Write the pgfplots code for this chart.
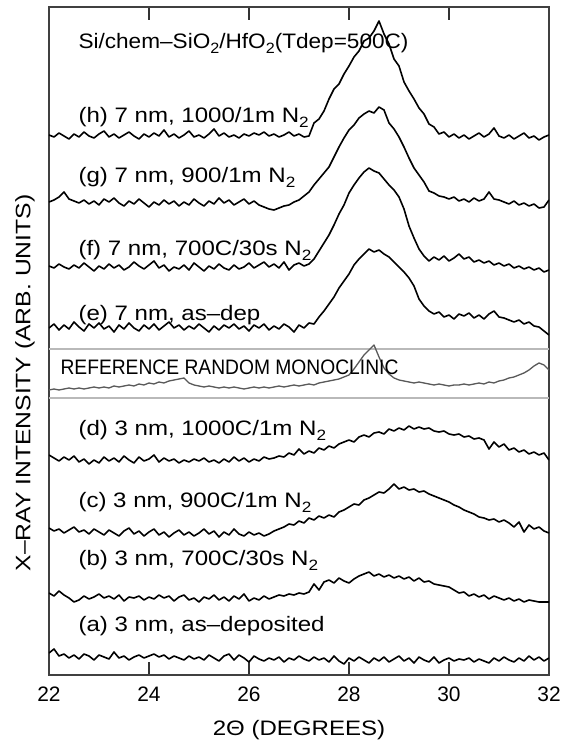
\documentclass[border=0pt]{standalone}
\usepackage{pgfplots}
\pgfplotsset{compat=1.18}
\usepackage{pgfplotstable}
\usepackage{fontspec}
\usepackage{graphicx}
\setmainfont{Liberation Sans}

% stacked XRD scans, y in screen units (each trace already offset)
\pgfplotstableread{
x a b c d r e f g h
22.0 22 82 147 220 285 347 409 473 540
22.1 26 79 144 217 286 351 407 475 538
22.2 19 84 146 214 285 345 411 478 542
22.3 21 80 142 218 286 350 408 483 539
22.4 17 77 145 215 287 346 406 476 536
22.5 20 73 148 219 286 353 410 474 541
22.6 16 75 143 213 287 348 407 472 538
22.7 21 79 145 216 286 344 412 475 543
22.8 19 76 141 211 287 351 408 471 539
22.9 15 78 146 215 288 347 404 474 537
23.0 20 81 143 212 287 352 409 470 541
23.1 18 77 140 218 288 346 406 476 544
23.2 16 79 145 214 287 349 411 473 538
23.3 23 76 142 217 289 343 407 477 541
23.4 17 80 139 213 288 350 410 472 537
23.5 19 74 144 219 289 346 405 469 540
23.6 15 78 147 215 290 352 408 474 543
23.7 18 77 141 212 289 347 413 471 539
23.8 20 79 144 218 291 344 409 476 536
23.9 17 75 139 214 290 350 406 472 541
24.0 19 78 143 216 292 346 410 468 538
24.1 21 76 146 220 291 351 414 473 542
24.2 18 80 140 213 293 345 407 470 539
24.3 20 77 143 217 292 349 410 475 545
24.4 16 79 138 214 294 353 404 471 538
24.5 19 74 142 216 295 347 408 474 541
24.6 17 78 145 212 296 350 406 469 537
24.7 15 80 140 215 297 345 410 473 540
24.8 19 75 143 213 292 349 405 470 544
24.9 16 77 139 216 290 346 412 476 538
25.0 18 73 142 214 289 351 408 472 540
25.1 15 78 146 217 288 347 404 469 537
25.2 20 76 141 213 289 343 409 474 541
25.3 17 80 144 215 288 349 406 471 546
25.4 14 75 138 212 287 345 411 477 539
25.5 19 78 143 216 288 350 407 472 542
25.6 21 74 140 213 287 347 405 475 538
25.7 15 79 146 218 288 351 410 470 540
25.8 20 76 141 214 287 346 406 473 537
25.9 17 81 139 217 286 349 408 476 541
26.0 13 74 143 213 287 344 412 471 539
26.1 19 77 140 216 288 350 407 474 542
26.2 16 75 142 214 287 347 410 470 540
26.3 14 79 139 218 288 351 413 468 543
26.4 17 76 141 216 287 345 408 466 539
26.5 15 78 144 217 288 349 411 465 541
26.6 18 80 146 219 289 346 407 467 538
26.7 13 79 148 218 288 351 413 469 540
26.8 17 81 151 222 289 348 405 470 543
26.9 15 80 150 220 290 343 410 473 539
27.0 19 82 154 226 289 350 412 475 541
27.1 16 81 152 221 290 347 409 479 538
27.2 14 83 157 224 291 352 411 483 539
27.3 18 91 155 222 290 351 416 490 552
27.4 15 85 159 227 292 358 424 496 556
27.5 17 93 157 225 293 364 432 502 564
27.6 13 95 160 229 294 371 440 508 576
27.7 19 92 158 227 295 378 450 518 586
27.8 14 97 163 231 296 387 461 528 591
27.9 11 94 165 233 298 394 470 537 601
28.0 17 92 168 235 300 401 482 545 609
28.1 14 96 171 233 306 410 490 550 618
28.2 18 99 170 238 313 416 497 557 624
28.3 15 101 175 240 320 421 503 561 634
28.4 12 103 177 238 325 426 507 564 637
28.5 17 99 180 242 330 423 504 562 644
28.6 14 101 183 243 318 425 502 568 654
28.7 18 98 182 241 307 421 496 565 641
28.8 13 100 186 246 301 418 490 552 631
28.9 16 97 191 244 297 413 485 546 616
29.0 19 99 186 247 295 408 478 538 609
29.1 14 96 188 245 294 403 466 528 593
29.2 17 98 185 249 293 397 449 517 584
29.3 12 94 186 246 292 389 437 507 576
29.4 18 97 183 248 293 376 426 500 567
29.5 15 93 184 246 292 369 419 493 561
29.6 13 94 181 247 291 364 414 484 551
29.7 18 91 179 244 290 361 418 482 548
29.8 12 90 177 243 291 363 415 479 541
29.9 15 89 175 244 290 358 419 478 543
30.0 17 88 173 241 289 360 414 476 538
30.1 14 85 170 240 290 356 417 478 541
30.2 16 82 168 241 290 361 421 474 537
30.3 15 83 165 238 291 359 416 476 540
30.4 17 79 163 239 290 362 418 473 536
30.5 13 81 161 236 291 357 413 477 539
30.6 16 78 158 237 292 360 415 474 542
30.7 14 80 157 235 291 356 412 476 538
30.8 12 76 155 226 293 361 414 483 541
30.9 17 79 156 233 292 364 410 476 547
31.0 14 77 153 228 294 358 412 475 539
31.1 18 75 155 231 295 357 409 473 537
31.2 15 77 152 225 297 355 411 471 540
31.3 13 74 148 227 298 353 407 474 536
31.4 17 76 153 223 300 355 409 470 539
31.5 14 73 143 225 302 351 406 472 542
31.6 19 75 150 221 305 353 408 469 537
31.7 15 74 146 223 309 349 405 471 539
31.8 18 73 148 220 312 348 407 467 535
31.9 14 73 144 222 310 344 403 468 538
32.0 17 73 142 215 305 340 405 475 540
}\xrd

\newcommand{\sub}[1]{\raisebox{-0.45ex}{\fontsize{15}{15}\selectfont #1}}
\newcommand{\lbl}[1]{\scalebox{1.15}[1]{#1}}

\begin{document}
\begin{tikzpicture}
\useasboundingbox (-49bp,-65bp) rectangle (526bp,675bp);
\begin{axis}[
    at={(0,0)}, anchor=south west,
    width=500bp, height=668bp, scale only axis,
    xmin=22, xmax=32, ymin=0, ymax=668,
    xtick={22,24,...,32}, ytick=\empty,
    tick align=inside, major tick length=13bp,
    tick style={line width=1.2bp, black!80},
    axis line style={line width=1.5bp, black!75},
    /pgf/number format/assume math mode=true,
    font=\fontsize{21}{24}\selectfont,
    xticklabel style={yshift=-8bp},
    xlabel={\scalebox{1.15}[1]{2Θ (DEGREES)}},
    xlabel style={at={(axis description cs:0.5,-0.082)}, anchor=center},
    ylabel={\scalebox{1.18}[1]{X–RAY INTENSITY (ARB. UNITS)}},
    ylabel style={at={(axis description cs:-0.048,0.437)}, anchor=center},
    trace/.style={black, line width=1.6bp, line join=round, mark=none},
]
% separators around the reference pattern
\addplot[gray!55, line width=1.6bp, mark=none] coordinates {(22,326) (32,326)};
\addplot[gray!55, line width=1.6bp, mark=none] coordinates {(22,277) (32,277)};

\addplot[trace] table[x=x, y=a] {\xrd};
\addplot[trace] table[x=x, y=b] {\xrd};
\addplot[trace] table[x=x, y=c] {\xrd};
\addplot[trace] table[x=x, y=d] {\xrd};
\addplot[black!65, line width=1.3bp, line join=round, mark=none] table[x=x, y=r] {\xrd};
\addplot[trace] table[x=x, y=e] {\xrd};
\addplot[trace] table[x=x, y=f] {\xrd};
\addplot[trace] table[x=x, y=g] {\xrd};
\addplot[trace] table[x=x, y=h] {\xrd};

\node[anchor=west] at (axis cs:22.52,632) {\scalebox{1.08}[1]{Si/chem–SiO\sub{2}/HfO\sub{2}(Tdep=500C)}};
\node[anchor=west] at (axis cs:22.52,558) {\lbl{(h) 7 nm, 1000/1m N\sub{2}}};
\node[anchor=west] at (axis cs:22.52,498) {\lbl{(g) 7 nm, 900/1m N\sub{2}}};
\node[anchor=west] at (axis cs:22.52,425) {\lbl{(f) 7 nm, 700C/30s N\sub{2}}};
\node[anchor=west] at (axis cs:22.52,360) {\lbl{(e) 7 nm, as–dep}};
\node[anchor=west] at (axis cs:22.16,308) {\scalebox{0.92}[1]{REFERENCE RANDOM MONOCLINIC}};
\node[anchor=west] at (axis cs:22.52,245) {\lbl{(d) 3 nm, 1000C/1m N\sub{2}}};
\node[anchor=west] at (axis cs:22.52,173) {\lbl{(c) 3 nm, 900C/1m N\sub{2}}};
\node[anchor=west] at (axis cs:22.52,115) {\lbl{(b) 3 nm, 700C/30s N\sub{2}}};
\node[anchor=west] at (axis cs:22.52,49) {\lbl{(a) 3 nm, as–deposited}};
\end{axis}
\end{tikzpicture}
\end{document}
